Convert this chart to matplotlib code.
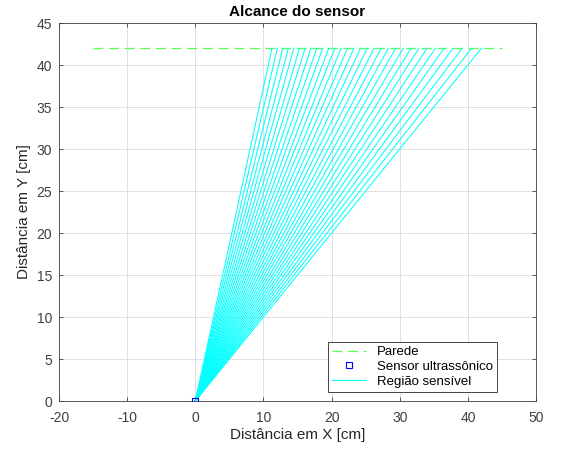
import numpy as np
import matplotlib
matplotlib.use('Agg')
import matplotlib.pyplot as plt

plt.rcParams['font.family'] = ['Liberation Sans', 'DejaVu Sans']
plt.rcParams['axes.unicode_minus'] = False

# parede a 42 cm
wall_x = [-15, 45]
wall_y = [42, 42]
# sensor na origem
sensor_x = [0]
sensor_y = [0]
# pontos onde cada feixe encontra a parede (x em cm)
beam_x = [42.00, 40.56, 39.17, 37.82, 36.51, 35.24, 34.01, 32.81, 31.65, 30.51,
          29.41, 28.33, 27.28, 26.24, 25.24, 24.25, 23.28, 22.33, 21.40, 20.48,
          19.59, 18.70, 17.83, 16.97, 16.12, 15.29, 14.46, 13.65, 12.84, 12.04,
          11.25]
beam_y = 42

fig = plt.figure(figsize=(5.68, 4.54), dpi=100)
ax = fig.add_axes([0.1039, 0.1167, 0.8398, 0.8326])

ax.plot(wall_x, wall_y, color='#55ff55', linestyle='--', dashes=(8, 4.5), linewidth=0.9, label='Parede')
ax.plot(sensor_x, sensor_y, 's', markerfacecolor='none', markeredgecolor='blue',
        markersize=5, markeredgewidth=0.8, label='Sensor ultrassônico', zorder=5)
for i, bx in enumerate(beam_x):
    ax.plot([0, bx], [0, beam_y], color='cyan', linewidth=0.75,
            label='Região sensível' if i == 0 else None)

ax.set_xlim(-20, 50)
ax.set_ylim(0, 45)
ax.set_xticks(np.arange(-20, 51, 10))
ax.set_yticks(np.arange(0, 46, 5))
ax.grid(True, color='#e0e0e0', linewidth=0.7)
ax.set_axisbelow(True)
ax.tick_params(direction='in', labelsize=10, length=3, width=0.6, top=True, right=True,
               labeltop=False, labelright=False, colors='#404040')
ax.tick_params(axis='x', pad=7)
ax.tick_params(axis='y', pad=5)
for s in ax.spines.values():
    s.set_linewidth(0.6)
    s.set_color('#404040')

ax.set_title('Alcance do sensor', fontsize=11, fontweight='bold', pad=5)
ax.set_xlabel('Distância em X [cm]', fontsize=11, labelpad=2, color='#262626')
ax.set_ylabel('Distância em Y [cm]', fontsize=11, labelpad=4, color='#262626')

leg = ax.legend(loc='lower right', fontsize=9.5, fancybox=False, framealpha=1,
                edgecolor='#262626', borderpad=0.3, handlelength=2.6, labelspacing=0.2,
                borderaxespad=0, bbox_to_anchor=(0.918, 0.024))
leg.get_frame().set_linewidth(0.6)

fig.savefig('out.png', dpi=100)
